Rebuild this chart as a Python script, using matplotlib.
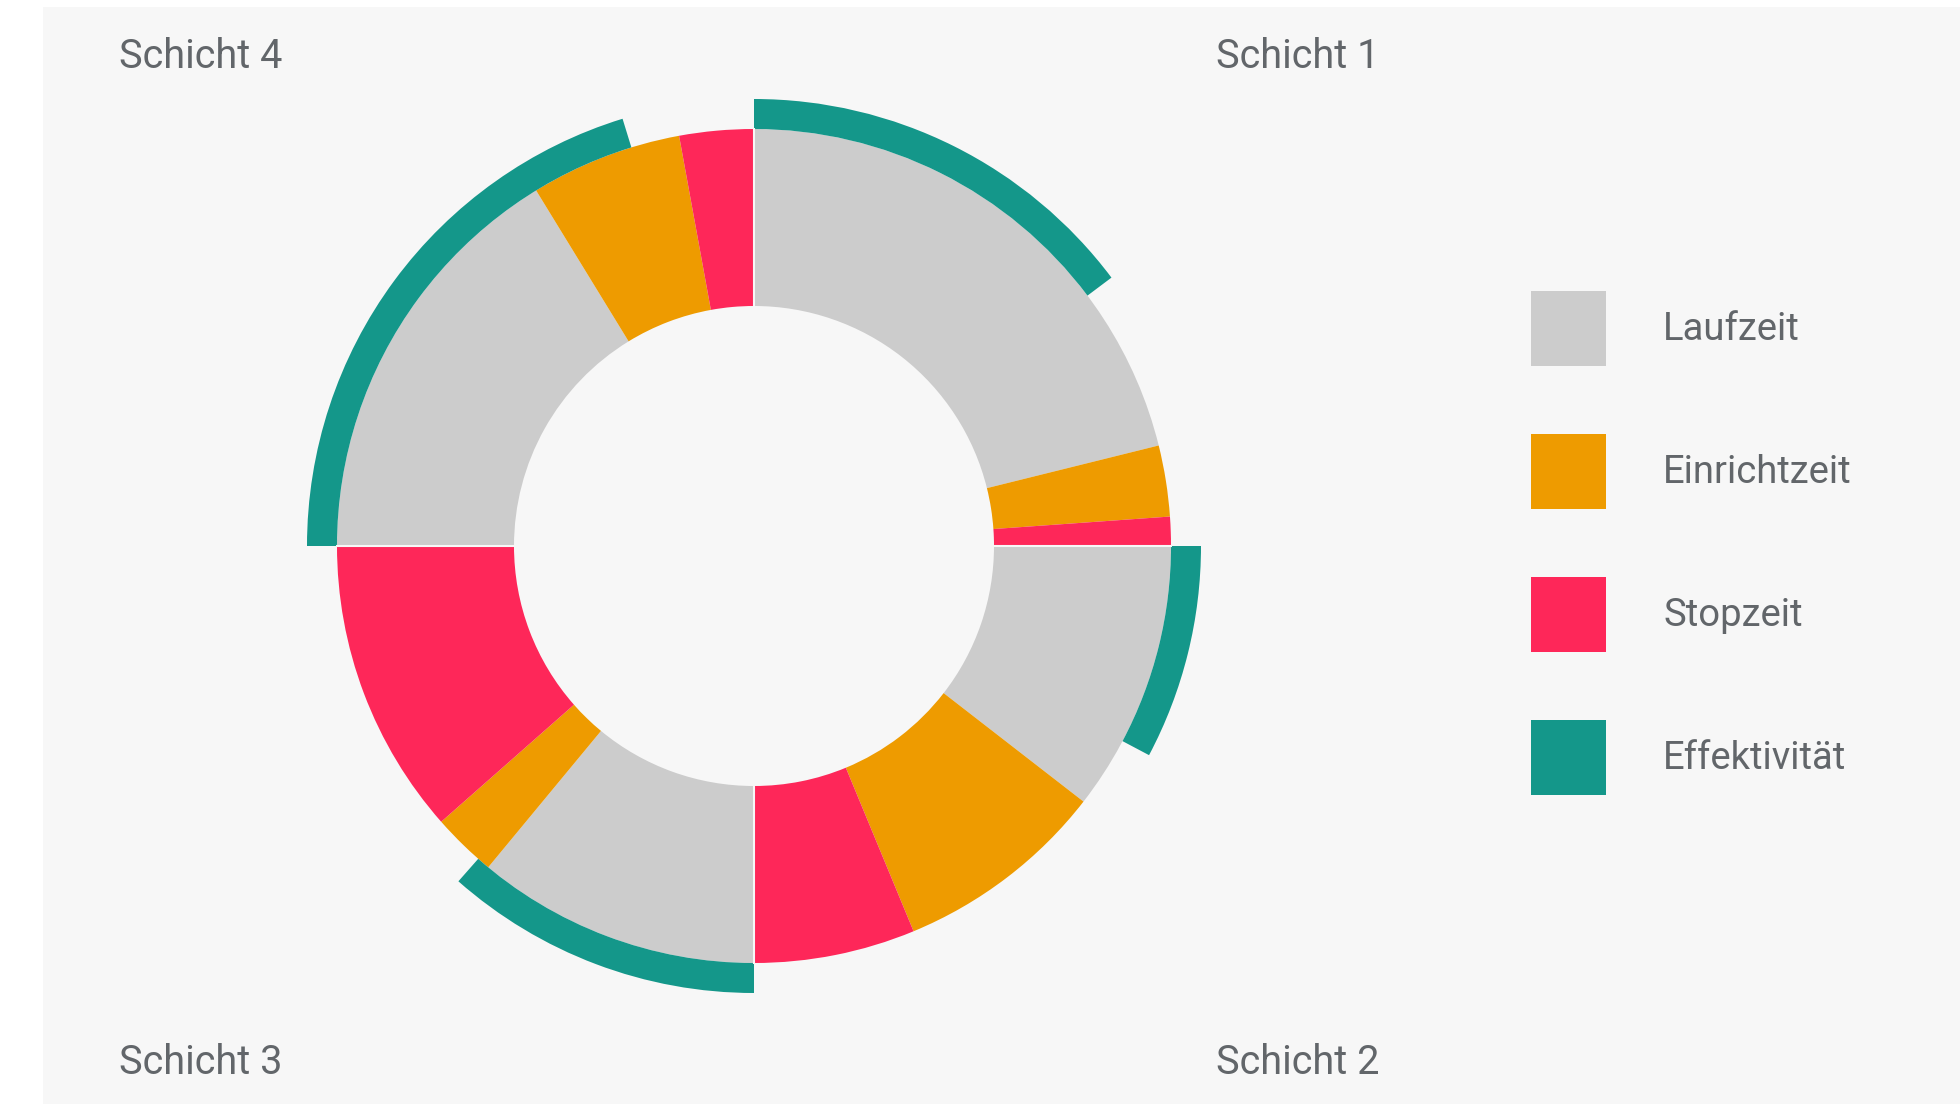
import numpy as np
import matplotlib.pyplot as plt
from matplotlib.patches import Patch

# Shares of each shift (percent of the shift)
shifts = ['Schicht 1', 'Schicht 2', 'Schicht 3', 'Schicht 4']
laufzeit = [84.5, 42.0, 44.0, 65.0]
einrichtzeit = [11.0, 33.0, 10.0, 23.5]
stopzeit = [4.5, 25.0, 46.0, 11.5]
effektivitaet = [59.0, 31.0, 46.0, 81.0]

categories = ['Laufzeit', 'Einrichtzeit', 'Stopzeit', 'Effektivität']
colors = ['#cccccc', '#ee9b00', '#fe2759', '#14978a']

bg = '#f7f7f7'
text_color = '#62666a'
plt.rcParams['font.family'] = ['Roboto', 'DejaVu Sans']

fig = plt.figure(figsize=(19.6, 11.04), dpi=100)
fig.patch.set_facecolor('white')
# light panel behind everything
panel = fig.add_axes([43 / 1960, 0, 1 - 43 / 1960, 1 - 7 / 1104])
panel.set_facecolor(bg)
panel.set_xticks([])
panel.set_yticks([])
for s in panel.spines.values():
    s.set_visible(False)

# polar axes, 1 data unit = 1 pixel
cx, cy, rmax = 754, 546, 450
ax = fig.add_axes([(cx - rmax) / 1960, (1104 - cy - rmax) / 1104,
                   2 * rmax / 1960, 2 * rmax / 1104], projection='polar')
ax.set_theta_zero_location('N')
ax.set_theta_direction(-1)
ax.set_ylim(0, rmax)
ax.set_facecolor('none')
ax.axis('off')

r_in, r_out, r_eff = 240, 417, 447
quarter = np.pi / 2

for i in range(len(shifts)):
    start = i * quarter
    parts = [laufzeit[i], einrichtzeit[i], stopzeit[i]]
    total = sum(parts)
    theta = start
    for val, col in zip(parts, colors[:3]):
        w = quarter * val / total
        ax.bar(theta, r_out - r_in, width=w, bottom=r_in, align='edge',
               color=col, edgecolor='none', linewidth=0)
        theta += w
    # effectiveness arc
    w_eff = quarter * effektivitaet[i] / 100
    ax.bar(start, r_eff - r_out, width=w_eff, bottom=r_out, align='edge',
           color=colors[3], edgecolor='none', linewidth=0)

# thin separators between the shifts
for i in range(4):
    ax.plot([i * quarter, i * quarter], [r_in - 2, r_out + 1],
            color=bg, lw=1.5, solid_capstyle='butt')

# shift labels in the corners
label_pos = {'Schicht 4': (119, 56), 'Schicht 1': (1216, 56),
             'Schicht 3': (119, 1063), 'Schicht 2': (1216, 1063)}
for name, (x, y) in label_pos.items():
    fig.text(x / 1960, 1 - y / 1104, name, fontsize=28.5, color=text_color,
             ha='left', va='center')

handles = [Patch(facecolor=c, edgecolor='none') for c in colors]
fs = 27.5
fs_px = fs * 100 / 72
hh = (75 / fs_px - 0.245) / 0.65
leg = fig.legend(handles, categories, loc='upper left',
                 bbox_to_anchor=(1531 / 1960, 1 - 291 / 1104),
                 frameon=False, fontsize=fs, borderpad=0, borderaxespad=0,
                 handlelength=75 / fs_px, handleheight=hh,
                 handletextpad=57 / fs_px,
                 labelspacing=68 / fs_px)
for t in leg.get_texts():
    t.set_color(text_color)

fig.savefig('out.png', dpi=100, facecolor='white')
